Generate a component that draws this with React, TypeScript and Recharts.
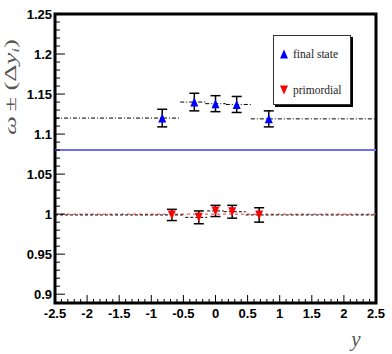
import React from 'react';
import {
  ComposedChart,
  Line,
  Scatter,
  ErrorBar,
  XAxis,
  YAxis,
  ReferenceLine,
  ReferenceArea,
  Legend,
} from 'recharts';

// final state (blue) and primordial (red) points
const blueX = [-0.83, -0.33, 0, 0.33, 0.83];
const blueY = [1.12, 1.14, 1.138, 1.137, 1.119];
const blueErr = [0.011, 0.011, 0.01, 0.01, 0.01];
const blueEdges = [-2.5, -0.55, -0.16, 0.16, 0.55, 2.5];

const redX = [-0.68, -0.26, 0, 0.26, 0.68];
const redY = [0.999, 0.996, 1.004, 1.003, 0.999];
const redErr = [0.007, 0.008, 0.007, 0.008, 0.009];
const redEdges = [-2.5, -0.47, -0.13, 0.13, 0.47, 2.5];

const blueRef = 1.08;
const redRef = 1.0;

const xMajor = [-2.5, -2, -1.5, -1, -0.5, 0, 0.5, 1, 1.5, 2, 2.5];
const yMajor = [0.9, 0.95, 1, 1.05, 1.1, 1.15, 1.2, 1.25];
const xDomain: [number, number] = [-2.5, 2.5];
const yDomain: [number, number] = [0.889, 1.25];

const legendItems = [
  { name: 'final state', color: '#0000ff', up: true },
  { name: 'primordial', color: '#ff0000', up: false },
];

// minor ticks every 0.1 on x, 0.01 on y
const xTicks: number[] = [];
for (let i = -25; i <= 25; i++) xTicks.push(i / 10);
const yTicks: number[] = [];
for (let i = 90; i <= 125; i++) yTicks.push(i / 100);

const points = (xs: number[], ys: number[], es: number[]) =>
  xs.map((x, i) => ({ x, y: ys[i], err: es[i] }));

const steps = (edges: number[], ys: number[]) => {
  const out: { x: number; y: number | null }[] = [];
  ys.forEach((y, i) => {
    out.push({ x: edges[i], y });
    out.push({ x: edges[i + 1], y });
    out.push({ x: edges[i + 1], y: null });
  });
  return out;
};

const blueData = points(blueX, blueY, blueErr);
const redData = points(redX, redY, redErr);
const blueSteps = steps(blueEdges, blueY);
const redSteps = steps(redEdges, redY);

const tickFont = "'Liberation Sans Narrow', 'Liberation Sans', Arial, sans-serif";
const serif = "'Liberation Serif', 'DejaVu Serif', serif";

const Tri = ({ cx, cy, fill, up }: any) => {
  const w = 4;
  const h = 4.5;
  const pts = up
    ? `${cx - w},${cy + h} ${cx + w},${cy + h} ${cx},${cy - h}`
    : `${cx - w},${cy - h} ${cx + w},${cy - h} ${cx},${cy + h}`;
  return <polygon points={pts} fill={fill} />;
};

const XTick = ({ x, y, payload }: any) => {
  const v = payload.value;
  const major = xMajor.some((m) => Math.abs(m - v) < 1e-6);
  return (
    <g>
      <line x1={x} x2={x} y1={y} y2={y - (major ? 8 : 4)} stroke="#000" />
      {major && (
        <text x={x} y={y + 15} textAnchor="middle" fontFamily={tickFont} fontWeight="bold" fontSize={13} fill="#000">
          {String(v)}
        </text>
      )}
    </g>
  );
};

const YTick = ({ x, y, payload }: any) => {
  const v = payload.value;
  const major = yMajor.some((m) => Math.abs(m - v) < 1e-6);
  return (
    <g>
      <line x1={x} x2={x + (major ? 10 : 5)} y1={y} y2={y} stroke="#000" />
      {major && (
        <text x={x - 3} y={y + 5} textAnchor="end" fontFamily={tickFont} fontWeight="bold" fontSize={13} fill="#000">
          {String(Number(v.toFixed(2)))}
        </text>
      )}
    </g>
  );
};

const YLabel = ({ viewBox }: any) => {
  const cx = viewBox.x + 1;
  const cy = viewBox.y + 73;
  return (
    <text
      x={cx}
      y={cy}
      transform={`rotate(-90, ${cx}, ${cy})`}
      textAnchor="middle"
      fontFamily={serif}
      fontSize={17}
      fill="#555"
      textLength={96}
      lengthAdjust="spacingAndGlyphs"
    >
      <tspan fontStyle="italic">ω</tspan>
      <tspan dx={3}>±</tspan>
      <tspan dx={4}>(Δ</tspan>
      <tspan fontStyle="italic">y</tspan>
      <tspan fontStyle="italic" fontSize={11} dy={3}>i</tspan>
      <tspan dy={-3}>)</tspan>
    </text>
  );
};

const XLabel = ({ viewBox }: any) => (
  <text
    x={viewBox.x + viewBox.width - 20}
    y={viewBox.y + 43}
    textAnchor="middle"
    fontFamily={serif}
    fontStyle="italic"
    fontSize={21}
    fill="#555"
  >
    y
  </text>
);

const LegendBox = () => (
  <div
    style={{
      width: 78,
      height: 70,
      background: '#fff',
      border: '1px solid #333',
      boxShadow: '2px 2px 0 #000',
      boxSizing: 'border-box',
      paddingTop: 8,
      fontFamily: serif,
      fontSize: 11.5,
      color: '#222',
    }}
  >
    {legendItems.map((it) => (
      <div key={it.name} style={{ display: 'flex', alignItems: 'center', height: 19, marginBottom: 17 }}>
        <svg width={15} height={12} style={{ marginLeft: 4 }}>
          <Tri cx={6} cy={6} fill={it.color} up={it.up} />
        </svg>
        <span>{it.name}</span>
      </div>
    ))}
  </div>
);

export default function App() {
  return (
    <div style={{ position: 'absolute', left: 0, top: 0, background: '#fff' }}>
      <ComposedChart
        width={392}
        height={354}
        margin={{ top: 14, right: 16, bottom: 21, left: 15 }}
      >
        <XAxis
          type="number"
          dataKey="x"
          domain={xDomain}
          ticks={xTicks}
          interval={0}
          tick={<XTick />}
          tickLine={false}
          tickSize={0}
          tickMargin={0}
          axisLine={false}
          height={30}
          allowDataOverflow
          label={<XLabel />}
        />
        <YAxis
          type="number"
          dataKey="y"
          domain={yDomain}
          ticks={yTicks}
          interval={0}
          tick={<YTick />}
          tickLine={false}
          tickSize={0}
          tickMargin={0}
          axisLine={false}
          width={40}
          allowDataOverflow
          label={<YLabel />}
        />
        <ReferenceLine y={blueRef} stroke="#7070f0" strokeWidth={2} />
        <ReferenceLine y={redRef} stroke="#ff3030" strokeWidth={1} strokeDasharray="3 3" />
        <Line
          data={blueSteps}
          dataKey="y"
          stroke="#000"
          strokeWidth={1}
          strokeDasharray="4 2 1 2"
          dot={false}
          connectNulls={false}
          isAnimationActive={false}
          legendType="none"
        />
        <Line
          data={redSteps}
          dataKey="y"
          stroke="#000"
          strokeWidth={1}
          strokeDasharray="3 2"
          dot={false}
          connectNulls={false}
          isAnimationActive={false}
          legendType="none"
        />
        <Scatter
          data={blueData}
          fill="#0000ff"
          shape={(p: any) => <Tri {...p} fill="#0000ff" up />}
          isAnimationActive={false}
        >
          <ErrorBar dataKey="err" direction="y" width={5} stroke="#000" strokeWidth={1.5} />
        </Scatter>
        <Scatter
          data={redData}
          fill="#ff0000"
          shape={(p: any) => <Tri {...p} fill="#ff0000" up={false} />}
          isAnimationActive={false}
        >
          <ErrorBar dataKey="err" direction="y" width={5} stroke="#000" strokeWidth={1.5} />
        </Scatter>
        <ReferenceArea
          x1={xDomain[0]}
          x2={xDomain[1]}
          y1={yDomain[0]}
          y2={yDomain[1]}
          fill="none"
          stroke="#000"
          strokeWidth={3}
          ifOverflow="visible"
        />
        <Legend
          content={<LegendBox />}
          layout="horizontal"
          verticalAlign="middle"
          align="center"
          wrapperStyle={{ left: 273, top: 35, width: 80, height: 72 }}
        />
      </ComposedChart>
    </div>
  );
}
